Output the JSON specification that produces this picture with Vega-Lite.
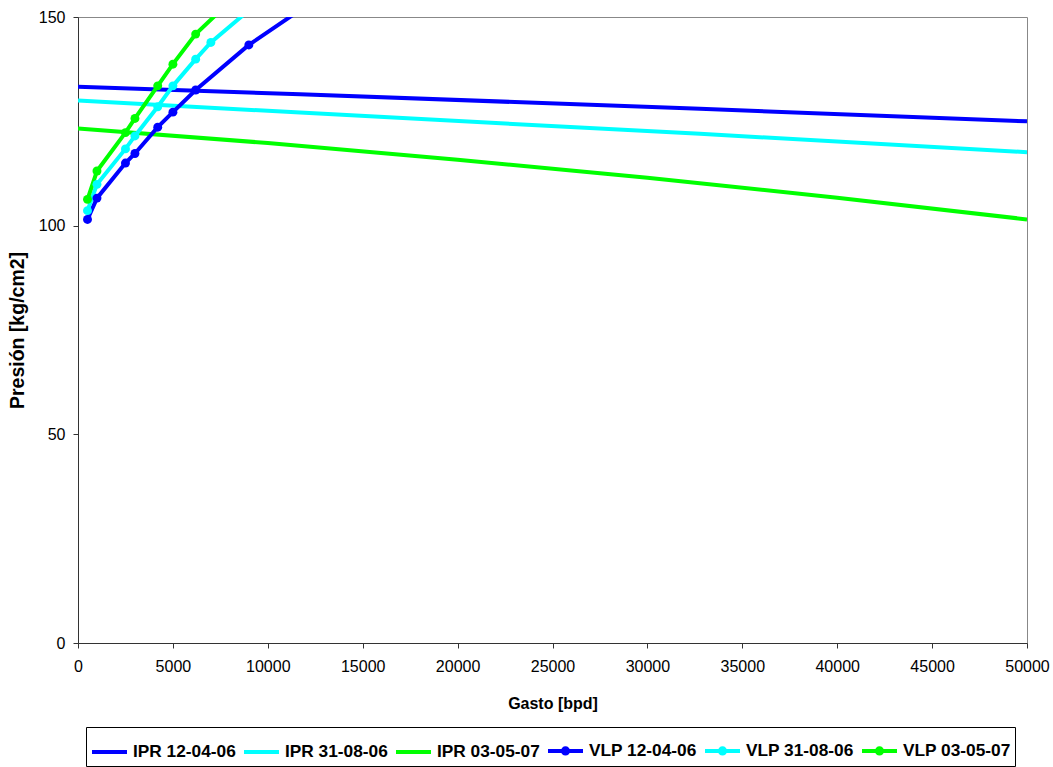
{
  "$schema": "https://vega.github.io/schema/vega-lite/v6.json",
  "width": 949,
  "height": 626,
  "autosize": {"type": "none"},
  "padding": {"left": 78, "top": 17, "right": 26, "bottom": 124},
  "background": "white",
  "config": {
    "view": {"stroke": "#888888", "strokeWidth": 1},
    "font": "Liberation Sans",
    "axis": {
      "grid": false,
      "domainColor": "#333333",
      "tickColor": "#333333",
      "tickSize": 5,
      "labelFont": "Liberation Sans",
      "labelFontSize": 16,
      "labelColor": "black",
      "titleFont": "Liberation Sans",
      "titleFontWeight": "bold",
      "titleColor": "black"
    }
  },
  "data": {
    "values": [
      {"serie": "IPR 12-04-06", "tipo": "IPR", "gasto": 0, "presion": 133.3},
      {"serie": "IPR 12-04-06", "tipo": "IPR", "gasto": 11700, "presion": 131.5},
      {"serie": "IPR 12-04-06", "tipo": "IPR", "gasto": 32770, "presion": 128.0},
      {"serie": "IPR 12-04-06", "tipo": "IPR", "gasto": 50000, "presion": 125.0},
      {"serie": "IPR 31-08-06", "tipo": "IPR", "gasto": 0, "presion": 130.0},
      {"serie": "IPR 31-08-06", "tipo": "IPR", "gasto": 11700, "presion": 127.1},
      {"serie": "IPR 31-08-06", "tipo": "IPR", "gasto": 32770, "presion": 122.0},
      {"serie": "IPR 31-08-06", "tipo": "IPR", "gasto": 50000, "presion": 117.6},
      {"serie": "IPR 03-05-07", "tipo": "IPR", "gasto": 0, "presion": 123.3},
      {"serie": "IPR 03-05-07", "tipo": "IPR", "gasto": 10000, "presion": 119.8},
      {"serie": "IPR 03-05-07", "tipo": "IPR", "gasto": 20000, "presion": 115.8},
      {"serie": "IPR 03-05-07", "tipo": "IPR", "gasto": 30000, "presion": 111.5},
      {"serie": "IPR 03-05-07", "tipo": "IPR", "gasto": 40000, "presion": 106.7},
      {"serie": "IPR 03-05-07", "tipo": "IPR", "gasto": 50000, "presion": 101.5},
      {"serie": "VLP 12-04-06", "tipo": "VLP", "gasto": 500, "presion": 101.5},
      {"serie": "VLP 12-04-06", "tipo": "VLP", "gasto": 1000, "presion": 106.6},
      {"serie": "VLP 12-04-06", "tipo": "VLP", "gasto": 2500, "presion": 115.0},
      {"serie": "VLP 12-04-06", "tipo": "VLP", "gasto": 3000, "presion": 117.3},
      {"serie": "VLP 12-04-06", "tipo": "VLP", "gasto": 4200, "presion": 123.6},
      {"serie": "VLP 12-04-06", "tipo": "VLP", "gasto": 5000, "presion": 127.2},
      {"serie": "VLP 12-04-06", "tipo": "VLP", "gasto": 6200, "presion": 132.5},
      {"serie": "VLP 12-04-06", "tipo": "VLP", "gasto": 9000, "presion": 143.3},
      {"serie": "VLP 12-04-06", "tipo": "VLP", "gasto": 12000, "presion": 152.6},
      {"serie": "VLP 31-08-06", "tipo": "VLP", "gasto": 500, "presion": 103.6},
      {"serie": "VLP 31-08-06", "tipo": "VLP", "gasto": 1000, "presion": 109.9},
      {"serie": "VLP 31-08-06", "tipo": "VLP", "gasto": 2500, "presion": 118.4},
      {"serie": "VLP 31-08-06", "tipo": "VLP", "gasto": 3000, "presion": 121.5},
      {"serie": "VLP 31-08-06", "tipo": "VLP", "gasto": 4200, "presion": 128.5},
      {"serie": "VLP 31-08-06", "tipo": "VLP", "gasto": 5000, "presion": 133.5},
      {"serie": "VLP 31-08-06", "tipo": "VLP", "gasto": 6200, "presion": 139.9},
      {"serie": "VLP 31-08-06", "tipo": "VLP", "gasto": 7000, "presion": 143.9},
      {"serie": "VLP 31-08-06", "tipo": "VLP", "gasto": 9000, "presion": 151.6},
      {"serie": "VLP 03-05-07", "tipo": "VLP", "gasto": 500, "presion": 106.3},
      {"serie": "VLP 03-05-07", "tipo": "VLP", "gasto": 1000, "presion": 113.1},
      {"serie": "VLP 03-05-07", "tipo": "VLP", "gasto": 2500, "presion": 122.3},
      {"serie": "VLP 03-05-07", "tipo": "VLP", "gasto": 3000, "presion": 125.7},
      {"serie": "VLP 03-05-07", "tipo": "VLP", "gasto": 4200, "presion": 133.5},
      {"serie": "VLP 03-05-07", "tipo": "VLP", "gasto": 5000, "presion": 138.7},
      {"serie": "VLP 03-05-07", "tipo": "VLP", "gasto": 6200, "presion": 145.9},
      {"serie": "VLP 03-05-07", "tipo": "VLP", "gasto": 9000, "presion": 158.0}
    ]
  },
  "encoding": {
    "x": {
      "field": "gasto",
      "type": "quantitative",
      "scale": {"domain": [0, 50000], "nice": false, "zero": false},
      "axis": {
        "title": "Gasto [bpd]",
        "values": [0, 5000, 10000, 15000, 20000, 25000, 30000, 35000, 40000, 45000, 50000],
        "format": "d",
        "labelFlush": false,
        "labelPadding": 10,
        "titlePadding": 21,
        "titleFontSize": 16
      }
    },
    "y": {
      "field": "presion",
      "type": "quantitative",
      "scale": {"domain": [0, 150], "nice": false},
      "axis": {
        "title": "Presión [kg/cm2]",
        "values": [0, 50, 100, 150],
        "labelPadding": 8,
        "titlePadding": 11,
        "titleFontSize": 19.5
      }
    },
    "color": {
      "field": "serie",
      "type": "nominal",
      "scale": {
        "domain": ["IPR 12-04-06", "IPR 31-08-06", "IPR 03-05-07", "VLP 12-04-06", "VLP 31-08-06", "VLP 03-05-07"],
        "range": ["#0000ff", "#00ffff", "#00ff00", "#0000ff", "#00ffff", "#00ff00"]
      },
      "legend": {
        "orient": "none",
        "legendX": 8,
        "legendY": 710,
        "direction": "horizontal",
        "columns": 6,
        "title": null,
        "strokeColor": "black",
        "fillColor": "white",
        "padding": 4,
        "labelFont": "Liberation Sans",
        "labelFontSize": 17.3,
        "labelFontWeight": "bold",
        "labelColor": "black",
        "labelOffset": 4,
        "columnPadding": 0,
        "symbolSize": 1225,
        "symbolStrokeWidth": 4,
        "symbolType": "M-1,0H1",
        "encode": {
          "symbols": {
            "update": {
              "shape": {"signal": "indexof(datum.value, 'VLP') === 0 ? 'M-1,0H1M-0.15,0A0.15,0.15,0,1,0,0.15,0A0.15,0.15,0,1,0,-0.15,0Z' : 'M-1,0H1'"},
              "fill": {"scale": "color", "field": "value"},
              "strokeWidth": {"value": 4}
            }
          }
        }
      }
    }
  },
  "layer": [
    {
      "transform": [{"filter": "datum.tipo === 'IPR'"}],
      "mark": {"type": "line", "strokeWidth": 4, "clip": true}
    },
    {
      "transform": [{"filter": "datum.tipo === 'VLP'"}],
      "mark": {"type": "line", "strokeWidth": 4, "clip": true, "point": {"filled": true, "size": 80, "opacity": 1}}
    }
  ]
}
